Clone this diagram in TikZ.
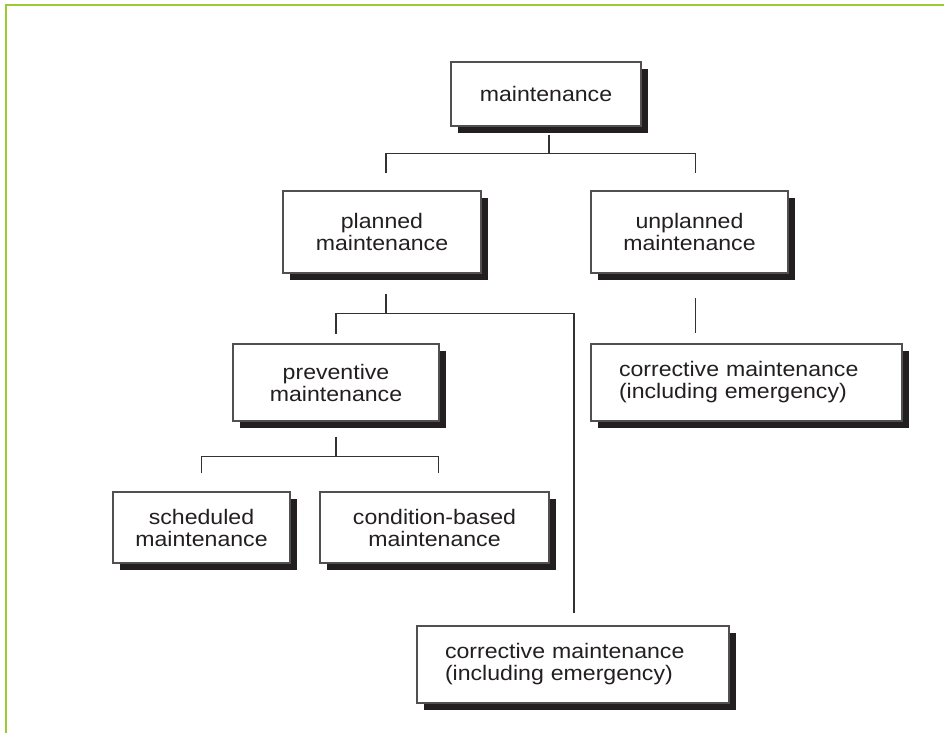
\documentclass[tikz,border=0pt]{standalone}
\usepackage{fontspec}
\setmainfont{Liberation Sans}[FakeStretch=1.1]
\usetikzlibrary{calc,shadows}
\definecolor{framegreen}{RGB}{153,204,51}
\definecolor{shadowc}{RGB}{35,31,32}
\definecolor{linec}{RGB}{50,50,50}
\definecolor{boxc}{RGB}{80,80,80}
\definecolor{textc}{RGB}{35,31,32}
\begin{document}
\begin{tikzpicture}[x=0.75pt,y=-0.75pt,
  font=\fontsize{15.75}{16.5}\selectfont,
  mbox/.style 2 args={draw=boxc, line width=0.9pt, fill=white, text=textc,
    minimum width=#1*0.75pt, minimum height=#2*0.75pt, inner sep=0pt, align=center,
    drop shadow={shadow xshift=5.25pt, shadow yshift=-5.25pt, opacity=1, fill=shadowc}},
  lbox/.style={align=left, text width=#1*0.75pt},
  conn/.style={draw=linec, line width=1.05pt}]
\useasboundingbox (0,0) rectangle (944,733);
\draw[framegreen, line width=1.6pt] (6,733) -- (6,5) -- (944,5);

\node[mbox={190}{64}] (main) at (546,94) {maintenance};
\node[mbox={198}{82}] (planned) at (382,232) {planned\\maintenance};
\node[mbox={197}{82}] (unplanned) at (689.5,232) {unplanned\\maintenance};
\node[mbox={206}{77}] (prev) at (336,382.5) {preventive\\maintenance};
\node[mbox={311}{77}, lbox={255}] (corrR) at (746.5,382.5) {corrective maintenance\\(including emergency)};
\node[mbox={177}{71}] (sched) at (201.5,527.5) {scheduled\\maintenance};
\node[mbox={229}{71}] (cond) at (434.5,527.5) {condition-based\\maintenance};
\node[mbox={312}{77}, lbox={256}] (corrL) at (573,664.5) {corrective maintenance\\(including emergency)};

% maintenance -> planned / unplanned
\coordinate (a0) at ($(main.south)+(3,8)$);
\coordinate (a1) at ($(planned.north)+(4,-17)$);
\coordinate (a2) at ($(unplanned.north)+(6,-17)$);
\coordinate (abar) at ($(a1)+(0,-20)$);
\draw[conn] (a0) -- (a0 |- abar);
\draw[conn] (a1) |- (a2 |- abar) -- (a2);

% planned -> preventive / corrective
\coordinate (b0) at ($(planned.south)+(4,20)$);
\coordinate (b1) at ($(prev.north)+(0,-9)$);
\coordinate (b2) at ($(corrL.north)+(1,-12)$);
\coordinate (bbar) at ($(b0)+(0,20)$);
\draw[conn] (b0) -- (bbar);
\draw[conn] (b1) |- (b2 |- bbar) -- (b2);

% unplanned -> corrective
\coordinate (c0) at ($(unplanned.south)+(6,24)$);
\coordinate (c1) at ($(corrR.north)+(-50,-10)$);
\draw[conn] (c0) -- (c0 |- c1);

% preventive -> scheduled / condition-based
\coordinate (d0) at ($(prev.south)+(0,15)$);
\coordinate (d1) at ($(sched.north)+(0,-18)$);
\coordinate (d2) at ($(cond.north)+(4,-18)$);
\coordinate (dbar) at ($(d0)+(0,20)$);
\draw[conn] (d0) -- (dbar);
\draw[conn] (d1) |- (d2 |- dbar) -- (d2);
\end{tikzpicture}
\end{document}
